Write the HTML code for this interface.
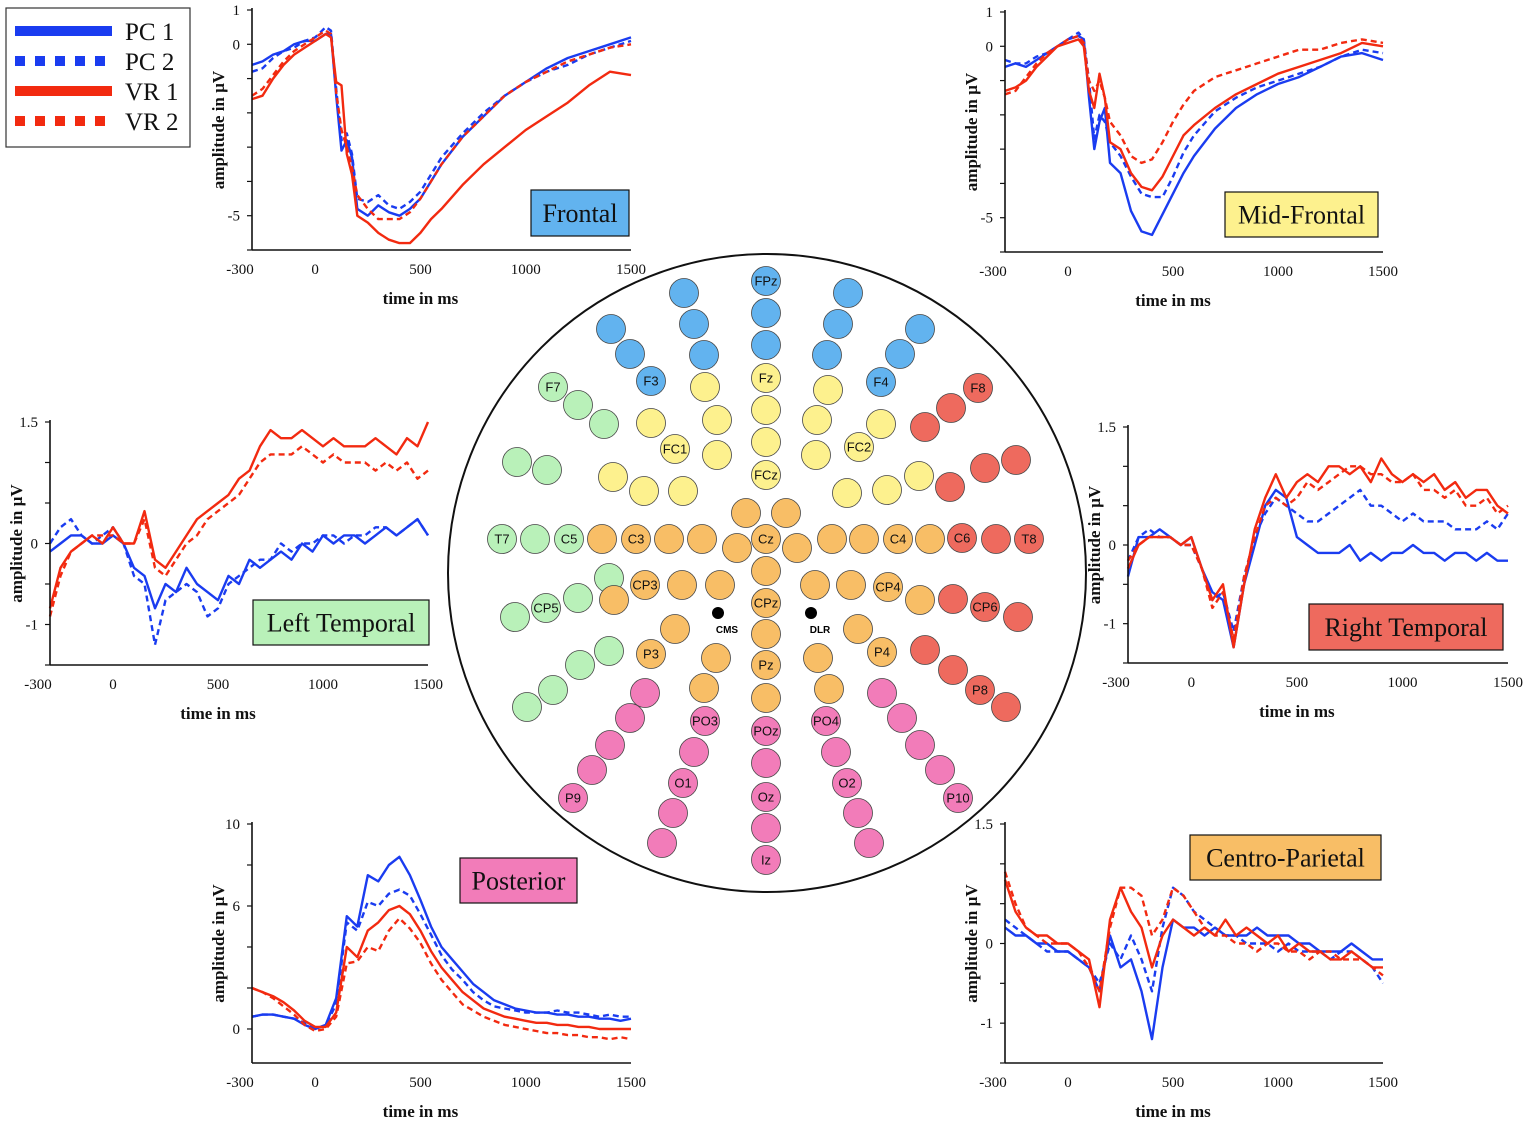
<!DOCTYPE html>
<html><head><meta charset="utf-8">
<style>
html,body{margin:0;padding:0;background:#fff;}
svg{display:block;}
.tk{font-family:"Liberation Serif",serif;font-size:15px;fill:#111;}
.al{font-family:"Liberation Serif",serif;font-size:17px;font-weight:bold;fill:#111;}
.el{font-family:"Liberation Sans",sans-serif;font-size:13px;fill:#111;}
.bx{font-family:"Liberation Serif",serif;font-size:26px;fill:#111;}
.lg{font-family:"Liberation Serif",serif;font-size:25px;fill:#111;}
</style></head>
<body>
<svg id="fig" width="1535" height="1123" viewBox="0 0 1535 1123" xmlns="http://www.w3.org/2000/svg">
<g id="head">
<circle cx="767" cy="573" r="319" fill="none" stroke="#111" stroke-width="2"/>
</g>
<g id="panels"></g>
<g id="legend">
<rect x="6" y="8" width="184" height="139" fill="#fff" stroke="#333" stroke-width="1.2"/>
<line x1="15" y1="31" x2="112" y2="31" stroke="#1a3cf0" stroke-width="10"/>
<text x="125" y="40" class="lg">PC 1</text>
<line x1="15" y1="61" x2="112" y2="61" stroke="#1a3cf0" stroke-width="10" stroke-dasharray="10,10"/>
<text x="125" y="70" class="lg">PC 2</text>
<line x1="15" y1="91" x2="112" y2="91" stroke="#f22a10" stroke-width="10"/>
<text x="125" y="100" class="lg">VR 1</text>
<line x1="15" y1="121" x2="112" y2="121" stroke="#f22a10" stroke-width="10" stroke-dasharray="10,10"/>
<text x="125" y="130" class="lg">VR 2</text>
</g>
</svg>
<script>
// ---------- chart data ----------
const seriesNames = ["PC1","PC2","VR1","VR2"];
const timesA = [-300,-250,-200,-150,-100,-50,0,50,75,100,125,150,175,200,250,300,350,400,450,500,550,600,700,800,900,1000,1100,1200,1300,1400,1500];
const timesB = [-300,-250,-200,-150,-100,-50,0,50,100,150,200,250,300,350,400,450,500,550,600,650,700,750,800,850,900,950,1000,1050,1100,1150,1200,1250,1300,1350,1400,1450,1500];
const xTickLabels = [-300,0,500,1000,1500];

const frontalPC1 = [-0.6,-0.5,-0.3,-0.2,0,0.1,0.1,0.3,0.3,-1.5,-3.1,-2.8,-3.3,-4.8,-5,-4.7,-4.9,-5,-4.8,-4.5,-4,-3.5,-2.7,-2.1,-1.5,-1.1,-0.7,-0.4,-0.2,0.0,0.2];
const frontalPC2 = [-0.8,-0.7,-0.4,-0.2,-0.1,0.1,0.2,0.5,0.4,-1.3,-2.8,-2.6,-3.2,-4.5,-4.6,-4.4,-4.7,-4.8,-4.6,-4.3,-3.8,-3.3,-2.6,-2,-1.5,-1.1,-0.8,-0.6,-0.3,-0.1,0.1];
const frontalVR1 = [-1.6,-1.5,-1.0,-0.6,-0.3,-0.1,0.1,0.3,0.2,-1.1,-1.2,-3.2,-3.8,-5,-5.2,-5.5,-5.7,-5.8,-5.8,-5.5,-5.1,-4.8,-4.1,-3.5,-3,-2.5,-2.1,-1.7,-1.2,-0.8,-0.9];
const frontalVR2 = [-1.5,-1.3,-0.9,-0.5,-0.2,0,0.2,0.4,0.3,-1.4,-2.5,-3,-3.6,-4.4,-4.8,-5.1,-5.1,-5.1,-4.9,-4.5,-4,-3.5,-2.7,-2.1,-1.5,-1.1,-0.8,-0.5,-0.3,-0.1,0.0];

const midPC1 = [-0.6,-0.5,-0.6,-0.4,-0.2,0,0.2,0.3,0.2,-1.5,-3,-2.2,-1.8,-3.4,-3.7,-4.8,-5.4,-5.5,-4.9,-4.3,-3.7,-3.2,-2.4,-1.8,-1.4,-1.1,-0.9,-0.6,-0.3,-0.2,-0.4];
const midPC2 = [-0.4,-0.5,-0.5,-0.3,-0.2,0,0.2,0.4,0.2,-1.0,-2.7,-2,-2.2,-2.8,-3.2,-3.8,-4.3,-4.4,-4.4,-3.8,-3.1,-2.6,-1.9,-1.5,-1.2,-1.0,-0.8,-0.6,-0.3,-0.1,-0.2];
const midVR1 = [-1.3,-1.2,-1,-0.6,-0.3,0,0.1,0.2,0,-1.3,-1.8,-0.8,-1.5,-2.8,-3.0,-3.7,-4.1,-4.2,-3.8,-3.2,-2.6,-2.3,-1.8,-1.4,-1.1,-0.8,-0.6,-0.4,-0.2,0.1,0];
const midVR2 = [-1.4,-1.3,-0.9,-0.5,-0.2,0,0.2,0.3,0.1,-1.0,-1.3,-1,-1.5,-2.2,-2.6,-3.2,-3.4,-3.3,-2.8,-2.2,-1.7,-1.3,-0.9,-0.7,-0.5,-0.3,-0.1,-0.1,0.1,0.2,0.1];

const ltPC1 = [-0.1,0,0.1,0.1,0,0,0.1,0,-0.3,-0.4,-0.8,-0.5,-0.6,-0.3,-0.5,-0.6,-0.7,-0.4,-0.5,-0.2,-0.3,-0.2,-0.1,-0.2,0,-0.1,0.1,0,0.1,0.1,0,0.1,0.2,0.1,0.2,0.3,0.1];
const ltPC2 = [0,0.2,0.3,0.1,0,0.1,0.2,0,-0.4,-0.5,-1.25,-0.7,-0.6,-0.5,-0.6,-0.9,-0.8,-0.5,-0.4,-0.3,-0.2,-0.2,0,-0.1,0,0,0.1,0.1,0,0.1,0.1,0.2,0.2,0.1,0.2,0.3,0.1];
const ltVR1 = [-0.8,-0.3,-0.1,0,0.1,0,0.2,0,0,0.4,-0.2,-0.3,-0.1,0.1,0.3,0.4,0.5,0.6,0.8,0.9,1.2,1.4,1.3,1.3,1.4,1.3,1.2,1.3,1.2,1.2,1.2,1.3,1.2,1.1,1.3,1.2,1.5];
const ltVR2 = [-0.9,-0.4,-0.1,0,0.1,0.1,0.1,0,0,0.3,-0.3,-0.4,-0.2,0,0.1,0.3,0.4,0.5,0.6,0.8,1.0,1.1,1.1,1.1,1.2,1.1,1.0,1.1,1.0,1.0,1.0,0.9,1.0,0.9,1.0,0.8,0.9];

const rtPC1 = [-0.4,0.1,0.1,0.2,0.1,0,0.1,-0.3,-0.6,-0.7,-1.3,-0.5,0,0.5,0.7,0.6,0.1,0,-0.1,-0.1,-0.1,0,-0.2,-0.1,-0.2,-0.1,-0.1,0,-0.1,-0.1,-0.2,-0.1,-0.1,-0.2,-0.1,-0.2,-0.2];
const rtPC2 = [-0.2,0.1,0.2,0.1,0.1,0,0,-0.3,-0.7,-0.6,-1.1,-0.4,0.1,0.4,0.6,0.5,0.4,0.3,0.3,0.4,0.5,0.6,0.7,0.5,0.5,0.4,0.3,0.4,0.3,0.3,0.3,0.2,0.2,0.2,0.3,0.2,0.4];
const rtVR1 = [-0.3,0,0.1,0.1,0.1,0,0.1,-0.3,-0.7,-0.5,-1.3,-0.5,0.2,0.6,0.9,0.6,0.8,0.9,0.8,1.0,1.0,0.9,1.0,0.8,1.1,0.9,0.8,0.9,0.8,0.9,0.7,0.8,0.6,0.7,0.7,0.5,0.4];
const rtVR2 = [-0.2,0,0.1,0.1,0.1,0,0,-0.3,-0.8,-0.6,-1.2,-0.4,0.1,0.5,0.6,0.5,0.6,0.8,0.7,0.8,0.9,1.0,1.0,0.9,0.9,0.8,0.8,0.9,0.7,0.7,0.6,0.7,0.5,0.5,0.6,0.4,0.5];

const postPC1 = [0.6,0.7,0.7,0.6,0.5,0.2,0,0.2,1.5,5.5,5.0,7.5,7.2,8.0,8.4,7.5,6.3,5.0,4.0,3.4,2.8,2.2,1.8,1.4,1.2,1.0,0.9,0.8,0.8,0.7,0.7,0.6,0.6,0.5,0.5,0.4,0.5];
const postPC2 = [0.6,0.7,0.7,0.6,0.5,0.3,0,0.2,1.2,5.2,4.8,6.2,6.0,6.6,6.8,6.5,5.6,4.6,3.6,2.9,2.4,1.8,1.4,1.1,1.0,0.9,0.8,0.8,0.8,0.9,0.8,0.8,0.7,0.6,0.7,0.6,0.6];
const postVR1 = [2,1.8,1.6,1.3,0.9,0.4,0.1,0.1,0.8,4,3.5,4.8,5.2,5.8,6,5.6,4.8,3.8,3,2.4,1.8,1.4,1,0.8,0.6,0.5,0.4,0.3,0.3,0.2,0.2,0.1,0.1,0,0,0,0];
const postVR2 = [2,1.8,1.5,1.1,0.7,0.2,-0.1,0,0.6,3.2,3.3,4,3.8,4.8,5.4,4.9,4.2,3.2,2.4,1.8,1.2,0.9,0.6,0.4,0.2,0.1,0,-0.1,-0.2,-0.2,-0.3,-0.3,-0.4,-0.4,-0.5,-0.4,-0.5];

const cpPC1 = [0.2,0.1,0.1,0,0,-0.1,-0.1,-0.2,-0.3,-0.6,0.1,-0.3,-0.2,-0.6,-1.2,-0.3,0.3,0.2,0.2,0.1,0.2,0.1,0.1,0.1,0.2,0.1,0.1,0.1,0,0,-0.1,-0.1,-0.1,0,-0.1,-0.2,-0.2];
const cpPC2 = [0.3,0.2,0.1,0,-0.1,-0.1,-0.1,-0.2,-0.3,-0.5,0,-0.2,0.1,-0.2,-0.6,0.2,0.7,0.6,0.4,0.3,0.2,0.1,0.1,0,0,0,-0.1,0,-0.1,-0.1,-0.1,-0.2,-0.1,-0.1,-0.2,-0.3,-0.5];
const cpVR1 = [0.8,0.4,0.2,0.1,0.1,0,0,-0.1,-0.2,-0.8,0.3,0.7,0.4,0.2,-0.3,0.1,0.3,0.2,0.1,0.2,0.1,0.3,0.1,0.2,0.1,0,0.1,-0.1,0,-0.1,-0.1,-0.2,-0.2,-0.1,-0.2,-0.3,-0.3];
const cpVR2 = [0.9,0.5,0.2,0.1,0,0,0,-0.1,-0.3,-0.6,0.2,0.7,0.7,0.6,0.1,0.3,0.7,0.6,0.4,0.2,0.1,0.1,0,0,-0.1,0,0,-0.1,-0.1,-0.2,-0.1,-0.1,-0.2,-0.2,-0.2,-0.3,-0.4];

const frontalYTicks = [1,0,-5];
const midYTicks = [1,0,-5];
const ltYTicks = [1.5,0,-1];
const rtYTicks = [1.5,0,-1];
const postYTicks = [10,6,0];
const cpYTicks = [1.5,0,-1];

// ---------- layout ----------
const NS = "http://www.w3.org/2000/svg";
function mk(tag, attrs, parent){const e=document.createElementNS(NS,tag);for(const k in attrs)e.setAttribute(k,attrs[k]);parent.appendChild(e);return e;}

const panels = [
 {name:"frontal", label:"Frontal", color:"#62b3ef", ax0:252, ax1:631, yTop:10, yBot:250, vTop:1, vBot:-6, minor:1, times:timesA, data:[frontalPC1,frontalPC2,frontalVR1,frontalVR2], ticks:frontalYTicks, box:[531,190,98,46]},
 {name:"mid-frontal", label:"Mid-Frontal", color:"#fdf18e", ax0:1005, ax1:1383, yTop:12, yBot:252, vTop:1, vBot:-6, minor:1, times:timesA, data:[midPC1,midPC2,midVR1,midVR2], ticks:midYTicks, box:[1225,192,153,45]},
 {name:"left-temporal", label:"Left Temporal", color:"#b9f1b9", ax0:50, ax1:428, yTop:422, yBot:665, vTop:1.5, vBot:-1.5, minor:0.5, times:timesB, data:[ltPC1,ltPC2,ltVR1,ltVR2], ticks:ltYTicks, box:[253,600,176,45]},
 {name:"right-temporal", label:"Right Temporal", color:"#ee6a5e", ax0:1128, ax1:1508, yTop:427, yBot:663, vTop:1.5, vBot:-1.5, minor:0.5, times:timesB, data:[rtPC1,rtPC2,rtVR1,rtVR2], ticks:rtYTicks, box:[1309,604,194,46]},
 {name:"posterior", label:"Posterior", color:"#f27cb9", ax0:252, ax1:631, yTop:824, yBot:1063, vTop:10, vBot:-1.66, minor:2, times:timesB, data:[postPC1,postPC2,postVR1,postVR2], ticks:postYTicks, box:[460,858,117,45]},
 {name:"centro-parietal", label:"Centro-Parietal", color:"#f8be66", ax0:1005, ax1:1383, yTop:824, yBot:1063, vTop:1.5, vBot:-1.5, minor:0.5, times:timesB, data:[cpPC1,cpPC2,cpVR1,cpVR2], ticks:cpYTicks, box:[1190,835,191,45]}
];
const sColors = ["#1a3cf0","#1a3cf0","#f22a10","#f22a10"];
const sDash = [null,"6,4",null,"6,4"];

const gp = document.getElementById("panels");
panels.forEach(p=>{
  const g = mk("g",{},gp);
  
  
  const xs = t => p.ax0 + (t+300)/1800*(p.ax1-p.ax0);
  const ys = v => p.yTop + (p.vTop - v)/(p.vTop - p.vBot)*(p.yBot-p.yTop);
  p.data.forEach((arr,si)=>{
    let d = arr.map((v,i)=>(i?"L":"M")+xs(p.times[i]).toFixed(1)+","+ys(v).toFixed(1)).join(" ");
    const path = mk("path",{d:d,fill:"none",stroke:sColors[si],"stroke-width":2.4,"stroke-linejoin":"round"},g);
    if(sDash[si]) path.setAttribute("stroke-dasharray",sDash[si]);
    
    
  });
  const ya = mk("line",{x1:p.ax0,y1:p.yTop-2,x2:p.ax0,y2:p.yBot,stroke:"#111","stroke-width":1.6},g);
  
  
  const xa = mk("line",{x1:p.ax0,y1:p.yBot,x2:p.ax1,y2:p.yBot,stroke:"#111","stroke-width":1.6},g);
  
  
  for(let v=Math.ceil(p.vBot/p.minor)*p.minor; v<=p.vTop+1e-6; v+=p.minor){
    mk("line",{x1:p.ax0-5,y1:ys(v),x2:p.ax0,y2:ys(v),stroke:"#111","stroke-width":1.2},g);
  }
  p.ticks.forEach(v=>{
    const t = mk("text",{x:p.ax0-12,y:ys(v)+5,"text-anchor":"end",class:"tk"},g);
    t.textContent = String(v);
    
    
  });
  xTickLabels.forEach(tv=>{
    const x = tv===-300 ? p.ax0-12 : xs(tv);
    const t = mk("text",{x:x,y:p.yBot+24,"text-anchor":"middle",class:"tk"},g);
    t.textContent = String(tv);
    
    
  });
  const yl = mk("text",{x:0,y:0,"text-anchor":"middle",class:"al",transform:`translate(${p.ax0-28},${(p.yTop+p.yBot)/2}) rotate(-90)`},g);
  yl.textContent = "amplitude in µV";
  
  
  const xl = mk("text",{x:xs(500),y:p.yBot+54,"text-anchor":"middle",class:"al"},g);
  xl.textContent = "time in ms";
  
  
  const [bx,by,bw,bh] = p.box;
  const r = mk("rect",{x:bx,y:by,width:bw,height:bh,fill:p.color,stroke:"#111","stroke-width":1.2},g);
  
  
  const lt = mk("text",{x:bx+bw/2,y:by+bh/2+9,"text-anchor":"middle",class:"bx"},g);
  lt.textContent = p.label;
  
  
});

// ---------- electrodes ----------
const C = {b:"#62b3ef",y:"#fdf18e",g:"#b9f1b9",o:"#f8be66",r:"#ee6a5e",p:"#f27cb9"};
const electrodes = [
 [766,281,"b","FPz"],[766,313,"b"],[766,345,"b"],[684,293,"b"],[694,324,"b"],[704,355,"b"],[611,329,"b"],[630,354,"b"],[651,381,"b","F3"],
 [848,293,"b"],[838,324,"b"],[827,355,"b"],[920,329,"b"],[900,354,"b"],[881,382,"b","F4"],
 [766,378,"y","Fz"],[766,410,"y"],[766,442,"y"],[766,475,"y","FCz"],[705,387,"y"],[717,420,"y"],[717,455,"y"],[675,449,"y","FC1"],[651,423,"y"],[613,477,"y"],[644,491,"y"],[683,491,"y"],
 [828,390,"y"],[817,420,"y"],[816,455,"y"],[859,447,"y","FC2"],[881,424,"y"],[919,476,"y"],[887,490,"y"],[847,493,"y"],
 [553,387,"g","F7"],[578,405,"g"],[604,424,"g"],[517,462,"g"],[547,470,"g"],[502,539,"g","T7"],[535,539,"g"],[569,539,"g","C5"],[546,608,"g","CP5"],[515,617,"g"],[578,598,"g"],[609,578,"g"],[609,651,"g"],[580,665,"g"],[553,690,"g"],[527,707,"g"],
 [602,539,"o"],[636,539,"o","C3"],[669,539,"o"],[702,539,"o"],[737,548,"o"],[766,539,"o","Cz"],[797,548,"o"],[832,539,"o"],[864,539,"o"],[898,539,"o","C4"],[930,539,"o"],
 [746,513,"o"],[786,513,"o"],[645,585,"o","CP3"],[682,585,"o"],[720,585,"o"],[614,600,"o"],[766,571,"o"],[766,603,"o","CPz"],[766,634,"o"],[815,585,"o"],[851,585,"o"],[888,587,"o","CP4"],[920,600,"o"],
 [675,629,"o"],[651,654,"o","P3"],[716,658,"o"],[858,629,"o"],[882,652,"o","P4"],[818,658,"o"],[766,665,"o","Pz"],[766,698,"o"],[704,688,"o"],[829,689,"o"],
 [978,388,"r","F8"],[951,408,"r"],[925,427,"r"],[950,487,"r"],[985,468,"r"],[1016,460,"r"],[962,538,"r","C6"],[996,539,"r"],[1029,539,"r","T8"],[953,599,"r"],[985,607,"r","CP6"],[1018,617,"r"],[925,650,"r"],[953,670,"r"],[980,690,"r","P8"],[1006,707,"r"],
 [645,693,"p"],[630,718,"p"],[610,745,"p"],[592,770,"p"],[573,798,"p","P9"],[705,721,"p","PO3"],[694,752,"p"],[683,783,"p","O1"],[673,813,"p"],[662,843,"p"],
 [766,731,"p","POz"],[766,763,"p"],[766,797,"p","Oz"],[766,828,"p"],[766,860,"p","Iz"],[826,721,"p","PO4"],[836,752,"p"],[847,783,"p","O2"],[858,813,"p"],[869,843,"p"],
 [882,693,"p"],[902,718,"p"],[920,745,"p"],[940,770,"p"],[958,798,"p","P10"]
];
const head = document.getElementById("head");
electrodes.forEach(e=>{
  const c = mk("circle",{cx:e[0],cy:e[1],r:14.5,fill:C[e[2]],stroke:"#444","stroke-width":0.8},head);
  
  
  if(e[3]){
    const t = mk("text",{x:e[0],y:e[1]+4.5,"text-anchor":"middle",class:"el"},head);
    t.textContent = e[3];
    
    
  }
});
[[718,613,"CMS"],[811,613,"DLR"]].forEach(d=>{
  const c = mk("circle",{cx:d[0],cy:d[1],r:6,fill:"#000"},head);
  
  
  const t = mk("text",{x:d[0]+9,y:d[1]+20,"text-anchor":"middle",style:"font-family:'Liberation Sans',sans-serif;font-size:10px;font-weight:bold"},head);
  t.textContent = d[2];
  
  
});
</script>
</body></html>
